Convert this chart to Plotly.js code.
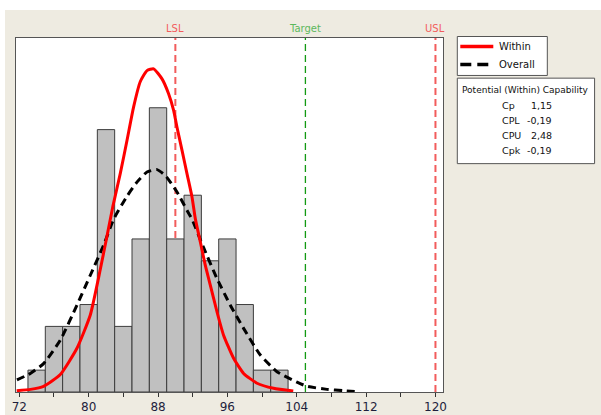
<!DOCTYPE html>
<html>
<head>
<meta charset="utf-8">
<script src="https://cdn.plot.ly/plotly-3.0.1.min.js"></script>
<style>
  html, body { margin: 0; padding: 0; background: #ffffff; width: 601px; height: 415px; overflow: hidden; }
  #chart { position: absolute; left: 5px; top: 10px; width: 596px; height: 405px; }
</style>
</head>
<body>
<div id="chart"></div>
<script>
// Histogram bins (centres) and counts
var binCenters = [74, 76, 78, 80, 82, 84, 86, 88, 90, 92, 94, 96, 98, 100, 102];
var binCounts  = [1, 3, 3, 4, 12, 3, 7, 13, 7, 9, 6, 7, 4, 1, 1];

// "Within" fitted curve
var withinX = [71.7, 73.3, 74.8, 76.73, 78.65, 80.19, 81.34, 82.1, 82.8, 83.65, 84.42, 85.18, 85.96, 86.73, 87.49, 88.46, 89.22, 89.8, 90.19, 90.77, 91.34, 91.92, 92.3, 92.88, 93.45, 94.03, 94.8, 95.56, 96.72, 97.87, 99.42, 101.33, 103.6];
var withinY = [0.06, 0.12, 0.26, 0.8, 2.0, 3.52, 5.6, 7.1, 8.5, 10.0, 11.5, 13.03, 14.2, 14.7, 14.78, 14.32, 13.64, 12.88, 12.11, 11.05, 9.99, 8.92, 7.93, 6.86, 5.8, 4.89, 3.67, 2.6, 1.54, 0.85, 0.40, 0.17, 0.05];

// "Overall" fitted curve
var overallX = [71.73, 73.27, 74.8, 76.73, 78.65, 80.19, 81.72, 82.88, 84.42, 85.57, 86.73, 87.88, 88.84, 90.19, 91.34, 91.92, 93.26, 94.8, 96.34, 97.87, 99.8, 101.72, 104.03, 105.18, 107.49, 109.4, 111.0];
var overallY = [0.55, 0.85, 1.3, 2.37, 3.97, 5.34, 6.71, 7.9, 8.95, 9.6, 10.06, 10.17, 9.9, 9.15, 8.31, 7.9, 6.6, 5.19, 3.97, 2.91, 1.69, 0.93, 0.45, 0.26, 0.12, 0.06, 0.01];

// Specification limits
var specNames  = ["LSL", "Target", "USL"];
var specValues = [90, 105, 120];
var specColors = ["#f25c5c", "#139a13", "#f25c5c"];
var specLabelColors = ["#f25c5c", "#5cb85c", "#f25c5c"];

// Legend entries
var legendNames  = ["Within", "Overall"];
var legendColors = ["#ff0000", "#000000"];
var legendDash   = ["solid", "11px,6px"];

// Capability table
var capTitle  = "Potential (Within) Capability";
var capLabels = ["Cp", "CPL", "CPU", "Cpk"];
var capValues = ["1,15", "-0,19", "2,48", "-0,19"];

// x axis ticks
var tickVals = [72, 80, 88, 96, 104, 112, 120];

var traces = [
  {
    type: "bar", x: binCenters, y: binCounts, width: 2,
    marker: { color: "#c0c0c0", line: { color: "#3c3c3c", width: 1 } },
    showlegend: false, hoverinfo: "skip"
  },
  {
    type: "scatter", mode: "lines", name: "Overall", x: overallX, y: overallY, showlegend: false,
    line: { color: "#000000", width: 3, dash: "8px,5px", shape: "spline", smoothing: 0.5 }
  },
  {
    type: "scatter", mode: "lines", name: "Within", x: withinX, y: withinY, showlegend: false,
    line: { color: "#ff0000", width: 3, shape: "spline", smoothing: 0.5 }
  }
];

var shapes = [];
var annotations = [];
for (var i = 0; i < specNames.length; i++) {
  shapes.push({
    type: "line", xref: "x", yref: "paper", x0: specValues[i], x1: specValues[i], y0: 0, y1: 1,
    layer: "below",
    line: { color: specColors[i], width: i === 1 ? 1.3 : 2, dash: "7px,4px" }
  });
  annotations.push({
    xref: "x", yref: "paper", x: specValues[i], y: 1.027, yanchor: "middle", xanchor: "center",
    text: specNames[i], showarrow: false,
    font: { family: "DejaVu Sans", size: 10, color: specLabelColors[i] }
  });
}

// legend box (drawn by hand)
shapes.push({
  type: "rect", xref: "paper", yref: "paper", x0: 1.0335, x1: 1.2443, y0: 0.8942, y1: 1.0042,
  fillcolor: "#ffffff", line: { color: "#555555", width: 1 }
});
var legendRowY = [0.976, 0.9252];
for (var k = 0; k < legendNames.length; k++) {
  shapes.push({
    type: "line", xref: "paper", yref: "paper", x0: 1.0405, x1: 1.1178, y0: legendRowY[k], y1: legendRowY[k],
    line: { color: legendColors[k], width: 3.5, dash: legendDash[k] }
  });
  annotations.push({
    xref: "paper", yref: "paper", x: 1.1272, y: legendRowY[k], xanchor: "left", yanchor: "middle",
    text: legendNames[k], showarrow: false, font: { family: "DejaVu Sans", size: 10, color: "#111111" }
  });
}

// capability box
shapes.push({
  type: "rect", xref: "paper", yref: "paper", x0: 1.0335, x1: 1.355, y0: 0.6451, y1: 0.8866,
  fillcolor: "#ffffff", line: { color: "#555555", width: 1 }
});
annotations.push({
  xref: "paper", yref: "paper", x: 1.194, y: 0.852, xanchor: "center", yanchor: "middle",
  text: capTitle, showarrow: false, font: { family: "DejaVu Sans", size: 9, color: "#111111" }
});
var rowY = [0.8096, 0.7673, 0.7250, 0.6827];
for (var j = 0; j < capLabels.length; j++) {
  annotations.push({
    xref: "paper", yref: "paper", x: 1.1335, y: rowY[j], xanchor: "left", yanchor: "middle",
    text: capLabels[j], showarrow: false, font: { family: "DejaVu Sans", size: 9.5, color: "#111111" }
  });
  annotations.push({
    xref: "paper", yref: "paper", x: 1.2607, y: rowY[j], xanchor: "right", yanchor: "middle",
    text: capValues[j], showarrow: false, font: { family: "DejaVu Sans", size: 9.5, color: "#111111" }
  });
}

var layout = {
  width: 596, height: 405,
  margin: { l: 10.7, r: 158.3, t: 27.5, b: 23, pad: 0 },
  paper_bgcolor: "#eeebe1",
  plot_bgcolor: "#ffffff",
  bargap: 0,
  showlegend: false,
  xaxis: {
    range: [71.62, 120.87],
    tickmode: "array", tickvals: tickVals, ticktext: tickVals.map(String),
    ticks: "outside", ticklen: 4, tickcolor: "#333333",
    minor: { dtick: 4, tick0: 72, ticks: "outside", ticklen: 4, tickcolor: "#333333", showgrid: false },
    showgrid: false, zeroline: false,
    showline: true, mirror: true, linecolor: "#555555", linewidth: 1,
    tickfont: { family: "DejaVu Sans", size: 12, color: "#1e1e3c" }
  },
  yaxis: {
    range: [0, 16.19],
    showticklabels: false, ticks: "", showgrid: false, zeroline: false,
    showline: true, mirror: true, linecolor: "#555555", linewidth: 1
  },
  shapes: shapes,
  annotations: annotations
};

Plotly.newPlot("chart", traces, layout, { displayModeBar: false, staticPlot: true });
</script>
</body>
</html>
